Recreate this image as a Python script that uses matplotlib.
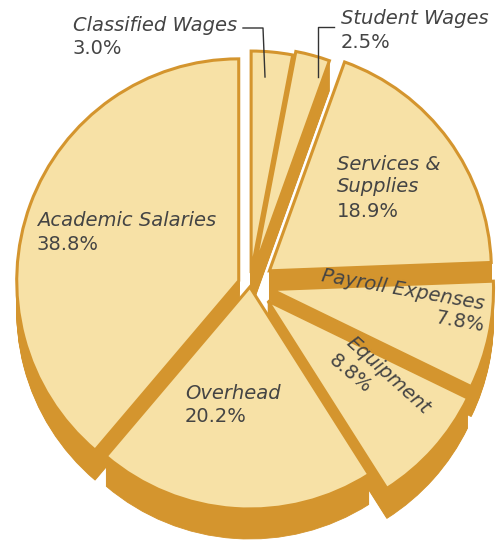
import numpy as np
import matplotlib
matplotlib.use("Agg")
import matplotlib.pyplot as plt

# Datos del grafico (porcentajes del presupuesto)
categorias = ["Classified Wages", "Student Wages", "Services &\nSupplies",
              "Payroll Expenses", "Equipment", "Overhead", "Academic Salaries"]
porcentajes = [3.0, 2.5, 18.9, 7.8, 8.8, 20.2, 38.8]
etiquetas_pct = ["3.0%", "2.5%", "18.9%", "7.8%", "8.8%", "20.2%", "38.8%"]

# Estilo
W, H = 497, 545
CREMA = "#F7E1A6"
DORADO = "#D4952E"
TEXTO = "#444444"
separacion_px = [12, 16, 24, 22, 24, 2, 12]   # desplazamiento de cada porcion
radio = 222
centro = (250, H - 285)
profundidad = 30

fig = plt.figure(figsize=(W / 100, H / 100), dpi=100)
ax = fig.add_axes([0, 0, 1, 1])

# Lado "3D": copias desplazadas hacia abajo
for k in np.arange(profundidad, 0, -1.0):
    ax.pie(porcentajes, radius=radio, center=(centro[0], centro[1] - k),
           explode=separacion_px, startangle=90, counterclock=False,
           colors=[DORADO] * len(porcentajes),
           wedgeprops=dict(linewidth=0.6, edgecolor=DORADO))

# Cara superior
ax.pie(porcentajes, radius=radio, center=centro, explode=separacion_px,
       startangle=90, counterclock=False, colors=[CREMA] * len(porcentajes),
       wedgeprops=dict(linewidth=2.2, edgecolor=DORADO))

ax.set_xlim(0, W)
ax.set_ylim(0, H)
ax.set_aspect("equal")
ax.axis("off")


def img(x, y):
    return x, H - y


fs = 14
ls = 1.22

def etiqueta(x, y, nombre, pct, **kw):
    ax.text(*img(x, y), nombre, fontsize=fs, style="italic", color=TEXTO,
            va="top", ha="left", linespacing=ls, **kw)
    n = nombre.count("\n") + 1
    ax.text(*img(x, y + n * 23.5), pct, fontsize=fs, color=TEXTO,
            va="top", ha="left", **kw)

etiqueta(73, 16, categorias[0], etiquetas_pct[0])
etiqueta(341, 9, categorias[1], etiquetas_pct[1])
etiqueta(337, 155, categorias[2], etiquetas_pct[2])
etiqueta(37, 211, categorias[6], etiquetas_pct[6])
etiqueta(185, 384, categorias[5], etiquetas_pct[5])

# Etiquetas giradas
ax.text(*img(403, 290), categorias[3], fontsize=fs, style="italic", color=TEXTO,
        rotation=-10, rotation_mode="anchor", ha="center", va="center")
ax.text(*img(460, 322), etiquetas_pct[3], fontsize=fs, color=TEXTO,
        rotation=-10, rotation_mode="anchor", ha="center", va="center")
ax.text(*img(388, 375), categorias[4], fontsize=fs, style="italic", color=TEXTO,
        rotation=-42, rotation_mode="anchor", ha="center", va="center")
ax.text(*img(350, 374), etiquetas_pct[4], fontsize=fs, color=TEXTO,
        rotation=-40, rotation_mode="anchor", ha="center", va="center")

# Lineas guia
ax.plot(*zip(img(243, 28), img(263, 28), img(265, 77)), color="#333333", lw=1)
ax.plot(*zip(img(334, 27), img(318, 27), img(318, 77)), color="#333333", lw=1)

fig.savefig("out.png", dpi=100, facecolor="white")
